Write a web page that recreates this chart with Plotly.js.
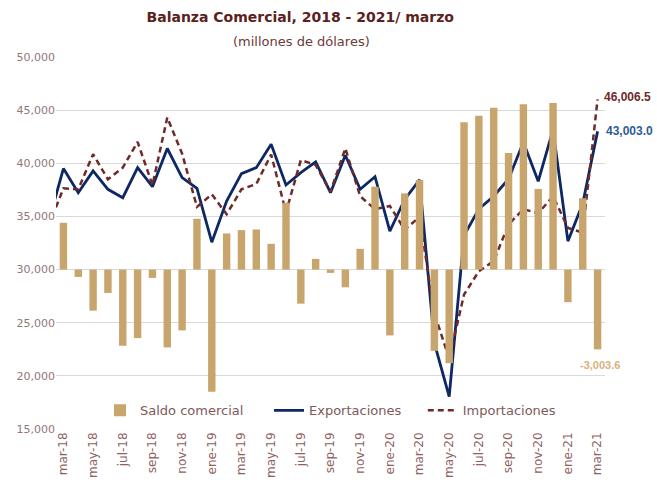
<!DOCTYPE html>
<html>
<head>
<meta charset="utf-8">
<script src="https://cdn.plot.ly/plotly-3.0.1.min.js"></script>
<style>html,body{margin:0;padding:0;background:#fff;}#chart{width:657px;height:489px;}</style>
</head>
<body>
<div id="chart"></div>
<script>
const months = ['feb-18','mar-18','abr-18','may-18','jun-18','jul-18','ago-18','sep-18','oct-18','nov-18','dic-18',
  'ene-19','feb-19','mar-19','abr-19','may-19','jun-19','jul-19','ago-19','sep-19','oct-19','nov-19','dic-19',
  'ene-20','feb-20','mar-20','abr-20','may-20','jun-20','jul-20','ago-20','sep-20','oct-20','nov-20','dic-20',
  'ene-21','feb-21','mar-21'];
const exportaciones = [34500, 39500, 37230, 39280, 37550, 36760, 39590, 37800, 41390, 38650, 37650,
  32580, 36450, 39030, 39590, 41790, 37960, 39120, 40130, 37230, 40760, 37550, 38740,
  33620, 36600, 38430, 23100, 18050, 33200, 35710, 36900, 38530, 41980, 38310, 43170,
  32670, 36210, 43003.0];
const importaciones = [34100, 37640, 37550, 40850, 38490, 39590, 42010, 37950, 44310, 40900, 35900,
  37080, 35200, 37550, 38050, 40830, 35400, 40300, 39850, 37320, 41400, 36900, 35680,
  35980, 33750, 34950, 25900, 21600, 27650, 29850, 30800, 34250, 35680, 35300, 36900,
  33920, 33480, 46006.5];
const saldoMonths = months.slice(1);
const saldo = [1761, -277, -1547, -880, -2868, -2579, -314, -2931, -2289, 1912,
  -4598, 1359, 1484, 1510, 969, 2516, -1283, 403, -126, -667, 780, 3120,
  -2478, 2868, 3371, -3060, -3522, 5543, 5793, 6094, 4389, 6220, 3035, 6270,
  -1229, 2684, -3003.6];
const tickLabels = ['mar-18','may-18','jul-18','sep-18','nov-18','ene-19','mar-19','may-19','jul-19',
  'sep-19','nov-19','ene-20','mar-20','may-20','jul-20','sep-20','nov-20','ene-21','mar-21'];

const FONT = 'DejaVu Sans, sans-serif';
const LBL = 'Liberation Sans, Arial, sans-serif';
const NB = '\u00A0';
const traces = [
  {type:'bar', name:'Saldo comercial' + NB.repeat(5), x:saldoMonths, y:saldo, yaxis:'y2',
   marker:{color:'#c9a56e'}, hoverinfo:'skip'},
  {type:'scatter', mode:'lines', name:'Exportaciones' + NB.repeat(4), x:months, y:exportaciones,
   line:{color:'#0d2863', width:2.8}},
  {type:'scatter', mode:'lines', name:'Importaciones', x:months, y:importaciones,
   line:{color:'#6f2a2a', width:2.5, dash:'6px,4px'}}
];
const lastM = months[months.length-1];
const layout = {
  width:657, height:489,
  margin:{l:56, r:52, t:57, b:60},
  paper_bgcolor:'#fff', plot_bgcolor:'#fff',
  font:{family:FONT, color:'#8a6868'},
  bargap:0.5,
  title:{text:'<b>Balanza Comercial, 2018 - 2021/ marzo</b>', x:0.457, xanchor:'center', y:0.965, yanchor:'middle',
         font:{family:FONT, size:14, color:'#5b2020'}},
  xaxis:{type:'category', categoryorder:'array', categoryarray:months, range:[0.5, 37.5],
         tickmode:'array', tickvals:tickLabels, ticktext:tickLabels, tickangle:-90,
         showgrid:false, zeroline:false, showline:false, ticks:'',
         tickfont:{family:FONT, size:12, color:'#8f6262'}},
  yaxis:{range:[15000, 50000], dtick:5000, tickformat:',', gridcolor:'#d9d9d9', gridwidth:1,
         zeroline:false, showline:false, ticks:'', tickfont:{family:FONT, size:11, color:'#927777'}},
  yaxis2:{overlaying:'y', range:[-6000, 8000], visible:false, showgrid:false, zeroline:false},
  legend:{orientation:'h', x:0.5, xanchor:'center', y:0.05, yanchor:'middle', bgcolor:'rgba(0,0,0,0)',
          font:{family:FONT, size:13, color:'#7d5a5a'}, traceorder:'normal'},
  annotations:[
    {text:'(millones de dólares)', xref:'paper', yref:'paper', x:(301-56)/549, y:(429-41)/372,
     xanchor:'center', yanchor:'middle', showarrow:false, font:{family:FONT, size:13, color:'#6b3a3a'}},
    {text:'<b>46,006.5</b>', x:lastM, y:importaciones[importaciones.length-1], xref:'x', yref:'y',
     xanchor:'left', yanchor:'middle', xshift:4, yshift:2, showarrow:false, font:{family:LBL, size:12, color:'#6f2a2a'}},
    {text:'<b>43,003.0</b>', x:lastM, y:exportaciones[exportaciones.length-1], xref:'x', yref:'y',
     xanchor:'left', yanchor:'middle', xshift:6, showarrow:false, font:{family:LBL, size:12, color:'#2f5b96'}},
    {text:'<b>-3,003.6</b>', x:lastM, y:saldo[saldo.length-1], xref:'x', yref:'y2',
     xanchor:'center', yanchor:'top', xshift:2, yshift:-8, showarrow:false, font:{family:LBL, size:11, color:'#d8b27a'}}
  ]
};
Plotly.newPlot('chart', traces, layout, {displayModeBar:false, staticPlot:true});
</script>
</body>
</html>
